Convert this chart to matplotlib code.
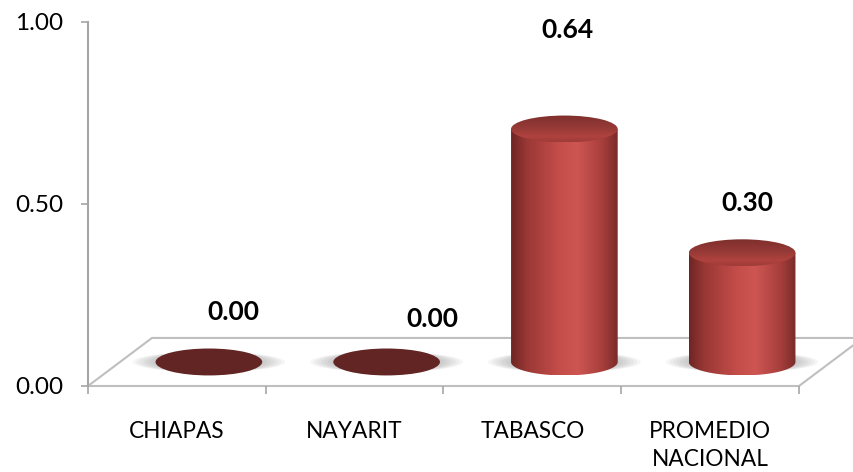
import matplotlib.pyplot as plt
import numpy as np
from matplotlib.patches import Ellipse, Polygon, PathPatch
from matplotlib.path import Path
from matplotlib.colors import LinearSegmentedColormap

# data
categorias = ['CHIAPAS', 'NAYARIT', 'TABASCO', 'PROMEDIO\nNACIONAL']
valores = [0.00, 0.00, 0.64, 0.30]
etiquetas = ['0.00', '0.00', '0.64', '0.30']
yticks = [0.0, 0.5, 1.0]
ytick_labels = ['0.00', '0.50', '1.00']

# where excel put the data labels (offset from the cylinder top)
lab_dx = [0.32, 0.44, 0.20, 0.21]
lab_dy = [0.10, 0.08, 0.235, 0.10]

plt.rcParams['font.family'] = ['Lato', 'DejaVu Sans']

fig = plt.figure(figsize=(8.54, 4.72), dpi=100)
ax = fig.add_axes([88/854, 86/472, 711/854, 364/472])

# fake 3d geometry
depth_x = 0.36
depth_y = 0.132
w = 0.60
eh = 0.074
base = depth_y / 2

# floor
floor = Polygon([(-0.5, 0), (3.5, 0), (3.5 + depth_x, depth_y), (-0.5 + depth_x, depth_y)],
                closed=True, facecolor='white', edgecolor='#BFBFBF', lw=1.5,
                clip_on=False, zorder=1)
ax.add_patch(floor)

body_cmap = LinearSegmentedColormap.from_list('body', [
    (0.0, '#6E2624'), (0.15, '#9A3835'), (0.45, '#C44D4A'),
    (0.62, '#CD5652'), (0.85, '#A83F3C'), (1.0, '#7A2C2A')])
top_cmap = LinearSegmentedColormap.from_list('top', [
    (0.0, '#7E302D'), (0.5, '#983A37'), (0.8, '#B0423E'), (1.0, '#9E3C38')])

grad = np.linspace(0, 1, 256).reshape(1, -1)

for i, v in enumerate(valores):
    c = i + depth_x / 2

    # soft shadow on the floor
    for k in range(7):
        sh = Ellipse((c, base), w + 0.26 - k * 0.04, eh * 0.75, facecolor='#808080',
                     edgecolor='none', alpha=0.07, zorder=2, clip_on=False)
        ax.add_patch(sh)

    if v <= 0.005:
        ax.add_patch(Ellipse((c, base), w, eh, facecolor='#632524', edgecolor='none',
                             zorder=3, clip_on=False))
    else:
        th = np.linspace(np.pi, 2 * np.pi, 60)
        xs = np.concatenate([[c - w/2], c + w/2 * np.cos(th), [c + w/2]])
        ys = np.concatenate([[base + v], base + eh/2 * np.sin(th), [base + v]])
        verts = list(zip(xs, ys)) + [(xs[0], ys[0])]
        codes = [Path.MOVETO] + [Path.LINETO] * (len(verts) - 2) + [Path.CLOSEPOLY]
        outline = PathPatch(Path(verts, codes), facecolor='none', edgecolor='none', zorder=3)
        ax.add_patch(outline)
        im = ax.imshow(grad, cmap=body_cmap, aspect='auto', zorder=3,
                       extent=(c - w/2, c + w/2, base - eh/2, base + v))
        im.set_clip_path(outline)

        top = Ellipse((c, base + v), w, eh, facecolor='none', edgecolor='none', zorder=4)
        ax.add_patch(top)
        tg = np.linspace(0, 1, 64).reshape(-1, 1) * np.ones((1, 64))
        im2 = ax.imshow(tg, cmap=top_cmap, aspect='auto', zorder=4, origin='upper',
                        extent=(c - w/2, c + w/2, base + v - eh/2, base + v + eh/2))
        im2.set_clip_path(top)

    ax.text(i + lab_dx[i], base + v + eh/2 + lab_dy[i], etiquetas[i], ha='center', va='center',
            fontsize=19, fontweight='bold', color='black', zorder=6, clip_on=False)

ax.set_xlim(-0.5, 3.5)
ax.set_ylim(0, 1)

# axes styling
for s in ['top', 'right', 'bottom']:
    ax.spines[s].set_visible(False)
ax.spines['left'].set_color('#A6A6A6')
ax.spines['left'].set_linewidth(1.5)

ax.set_yticks(yticks)
ax.set_yticklabels(ytick_labels, fontsize=17.5)
ax.tick_params(axis='y', length=5, width=1.2, color='#A6A6A6', pad=13)

ax.set_xticks([-0.5, 0.5, 1.5, 2.5, 3.5])
ax.set_xticklabels([])
ax.tick_params(axis='x', which='major', length=6, width=1.2, color='#A6A6A6')
ax.set_xticks(range(len(categorias)), minor=True)
ax.set_xticklabels(categorias, minor=True, fontsize=16.3, linespacing=1.4)
ax.tick_params(axis='x', which='minor', length=0, pad=25)

plt.savefig('out.png', dpi=100, facecolor='white')
